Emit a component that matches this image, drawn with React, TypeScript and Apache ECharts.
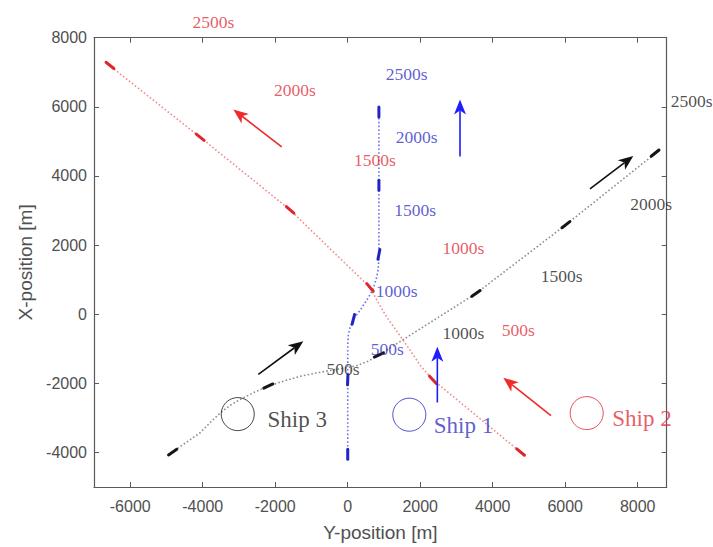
import { useEffect, useRef } from "react";
import * as echarts from "echarts";

// Axis tick positions (metres)
const xTicks = [-6000, -4000, -2000, 0, 2000, 4000, 6000, 8000];
const yTicks = [-4000, -2000, 0, 2000, 4000, 6000, 8000];

// Ship tracks, [Y-position, X-position]
const ship1Track = [
  [0, -4050], [0, -900], [15, -620], [60, -400], [155, -150], [260, 0],
  [340, 110], [450, 290], [570, 480], [660, 650], [725, 820], [790, 1030],
  [840, 1300], [860, 1600], [860, 5900],
];
const ship2Track = [
  [4800, -4020], [2350, -1900], [2000, -1480], [1720, -1040], [1400, -560],
  [1080, -90], [850, 320], [615, 774], [-1590, 3017], [-4070, 5120], [-6650, 7260],
];
const ship3Track = [
  [-4870, -4010], [-4470, -3720], [-4070, -3430], [-3800, -3140], [-3520, -2860],
  [-3250, -2640], [-2970, -2470], [-2600, -2270], [-2190, -2080], [-1750, -1930],
  [-1320, -1800], [-860, -1700], [-400, -1610], [-80, -1560], [250, -1490],
  [560, -1360], [860, -1180], [3540, 600], [6020, 2590], [8520, 4680],
];

// Positions every 500 s (0 s .. 2500 s)
const ship1Marks = [[0, -4050], [0, -1900], [155, -150], [860, 1730], [860, 3730], [860, 5850]];
const ship2Marks = [[4770, -3990], [2350, -1900], [615, 774], [-1590, 3017], [-4070, 5120], [-6560, 7200]];
const ship3Marks = [[-4830, -3990], [-2190, -2080], [860, -1180], [3540, 600], [6020, 2590], [8480, 4660]];

// Time annotations: [text, y, x]
const ship1Times: [string, number, number][] = [
  ["2500s", 1628, 6957], ["2000s", 1903, 5138], ["1500s", 1857, 3020],
  ["1000s", 1352, 672], ["500s", 1092, -994],
];
const ship2Times: [string, number, number][] = [
  ["2500s", -3708, 8460], ["2000s", -1454, 6497], ["1500s", 753, 4457],
  ["1000s", 3189, 1920], ["500s", 4706, -466],
];
const ship3Times: [string, number, number][] = [
  ["2500s", 9490, 6181], ["2000s", 8370, 3190], ["1500s", 5903, 1115],
  ["1000s", 3189, -543], ["500s", -130, -1598],
];

// Heading arrows: [tailY, tailX, tipY, tipX]
const ship1Arrows = [[3098, 4563, 3098, 6210], [2472, -2555, 2472, -945]];
const ship2Arrows = [[-1821, 4839, -3156, 5922], [5608, -2937, 4292, -1836]];
const ship3Arrows = [[-2466, -1741, -1225, -782], [6684, 3624, 7879, 4580]];

// Initial ship positions and names
const shipNames = ["Ship 1", "Ship 2", "Ship 3"];
const shipCircles = [[1699, -2908], [6593, -2862], [-3034, -2891]];
const shipNamePos = [[2361, -3216], [7283, -3006], [-2226, -3034]];

const BLUE = { track: "#7070ea", mark: "#2424c4", text: "#3434c6", arrow: "#1d1dff" };
const RED = { track: "#f28c8c", mark: "#e0262c", text: "#e2323c", arrow: "#ee2a2a" };
const BLACK = { track: "#8e8e8e", mark: "#161616", text: "#1e1e1e", arrow: "#111111" };
const SERIF = "'Liberation Serif', 'Times New Roman', serif";
const SANS = "'Liberation Sans', Arial, sans-serif";

function trackSeries(data: number[][], color: string) {
  return {
    type: "line",
    data,
    smooth: false,
    showSymbol: false,
    silent: true,
    lineStyle: { color, width: 1.6, type: [1.6, 2.2] },
    z: 2,
  };
}

function markSeries(marks: number[][], color: string) {
  return {
    type: "custom",
    coordinateSystem: "cartesian2d",
    silent: true,
    z: 4,
    data: marks.map((p, i) => {
      const a = marks[Math.max(0, i - 1)];
      const b = marks[Math.min(marks.length - 1, i + 1)];
      return [p[0], p[1], b[0] - a[0], b[1] - a[1]];
    }),
    renderItem: (_params: any, api: any) => {
      const x = api.value(0), y = api.value(1);
      const p = api.coord([x, y]);
      const q = api.coord([x + api.value(2), y + api.value(3)]);
      let ux = q[0] - p[0], uy = q[1] - p[1];
      const len = Math.hypot(ux, uy) || 1;
      ux /= len; uy /= len;
      const h = 5;
      return {
        type: "line",
        shape: { x1: p[0] - ux * h, y1: p[1] - uy * h, x2: p[0] + ux * h, y2: p[1] + uy * h },
        style: { stroke: color, lineWidth: 3, lineCap: "round" },
      };
    },
  };
}

function arrowSeries(arrows: number[][], color: string) {
  return {
    type: "custom",
    coordinateSystem: "cartesian2d",
    silent: true,
    z: 5,
    data: arrows,
    renderItem: (_params: any, api: any) => {
      const t = api.coord([api.value(0), api.value(1)]);
      const h = api.coord([api.value(2), api.value(3)]);
      let ux = h[0] - t[0], uy = h[1] - t[1];
      const len = Math.hypot(ux, uy) || 1;
      ux /= len; uy /= len;
      const nx = -uy, ny = ux;
      const hl = 15, hw = 6, notch = 4;
      const bx = h[0] - ux * hl, by = h[1] - uy * hl;
      const cx = h[0] - ux * (hl - notch), cy = h[1] - uy * (hl - notch);
      return {
        type: "group",
        children: [
          {
            type: "line",
            shape: { x1: t[0], y1: t[1], x2: cx, y2: cy },
            style: { stroke: color, lineWidth: 1.6 },
          },
          {
            type: "polygon",
            shape: {
              points: [
                [h[0], h[1]],
                [bx + nx * hw, by + ny * hw],
                [cx, cy],
                [bx - nx * hw, by - ny * hw],
              ],
            },
            style: { fill: color },
          },
        ],
      };
    },
  };
}

function timeSeries(items: [string, number, number][], color: string) {
  return {
    type: "scatter",
    clip: false,
    silent: true,
    symbolSize: 1,
    itemStyle: { color: "transparent" },
    z: 6,
    data: items.map(([name, x, y]) => ({ name, value: [x, y] })),
    label: {
      show: true,
      position: "inside",
      formatter: "{b}",
      color,
      fontSize: 17.5,
      fontFamily: SERIF,
    },
  };
}

export default function App() {
  const ref = useRef<HTMLDivElement>(null);

  useEffect(() => {
    if (!ref.current) return;
    const chart = echarts.init(ref.current, undefined, { renderer: "svg" });
    const axisColor = "#5a5a5a";
    const tickLabel = {
      fontSize: 16,
      color: "#505050",
      fontFamily: SANS,
      formatter: (v: number) => String(v),
    };
    const frame = { show: true, onZero: false, lineStyle: { color: axisColor, width: 1.2 } };
    const shipColors = [BLUE, RED, BLACK];

    chart.setOption({
      animation: false,
      backgroundColor: "#ffffff",
      grid: { left: 94, right: 46.3, top: 37.7, bottom: 56.9 },
      xAxis: [
        {
          type: "value",
          min: -7000,
          max: 8800,
          position: "bottom",
          name: "Y-position [m]",
          nameLocation: "middle",
          nameGap: 36,
          nameTextStyle: { fontSize: 19, color: "#505050", fontFamily: SANS },
          axisLine: frame,
          axisTick: { show: true, inside: true, length: 5, customValues: xTicks, lineStyle: { color: axisColor } },
          axisLabel: { ...tickLabel, margin: 11, customValues: xTicks },
          splitLine: { show: false },
        },
        {
          type: "value",
          min: -7000,
          max: 8800,
          position: "top",
          axisLine: frame,
          axisTick: { show: true, inside: true, length: 5, customValues: xTicks, lineStyle: { color: axisColor } },
          axisLabel: { show: false },
          splitLine: { show: false },
        },
      ],
      yAxis: [
        {
          type: "value",
          min: -5000,
          max: 8000,
          position: "left",
          name: "X-position [m]",
          nameLocation: "middle",
          nameGap: 58,
          nameTextStyle: { fontSize: 19, color: "#505050", fontFamily: SANS },
          axisLine: frame,
          axisTick: { show: true, inside: true, length: 5, customValues: yTicks, lineStyle: { color: axisColor } },
          axisLabel: { ...tickLabel, margin: 7, customValues: yTicks },
          splitLine: { show: false },
        },
        {
          type: "value",
          min: -5000,
          max: 8000,
          position: "right",
          axisLine: frame,
          axisTick: { show: true, inside: true, length: 5, customValues: yTicks, lineStyle: { color: axisColor } },
          axisLabel: { show: false },
          splitLine: { show: false },
        },
      ],
      series: [
        trackSeries(ship1Track, BLUE.track),
        trackSeries(ship2Track, RED.track),
        trackSeries(ship3Track, BLACK.track),
        markSeries(ship1Marks, BLUE.mark),
        markSeries(ship2Marks, RED.mark),
        markSeries(ship3Marks, BLACK.mark),
        arrowSeries(ship1Arrows, BLUE.arrow),
        arrowSeries(ship2Arrows, RED.arrow),
        arrowSeries(ship3Arrows, BLACK.arrow),
        timeSeries(ship1Times, BLUE.text),
        timeSeries(ship2Times, RED.text),
        timeSeries(ship3Times, BLACK.text),
        {
          type: "scatter",
          silent: true,
          clip: false,
          symbol: "circle",
          symbolSize: 33,
          z: 3,
          data: shipCircles.map((p, i) => ({
            value: p,
            itemStyle: { color: "transparent", borderColor: shipColors[i].mark, borderWidth: 1 },
          })),
        },
        {
          type: "scatter",
          silent: true,
          clip: false,
          symbolSize: 1,
          itemStyle: { color: "transparent" },
          z: 6,
          data: shipNamePos.map((p, i) => ({
            name: shipNames[i],
            value: p,
            label: { color: shipColors[i].text },
          })),
          label: {
            show: true,
            position: "right",
            distance: 0,
            formatter: "{b}",
            fontSize: 23,
            fontFamily: SERIF,
          },
        },
      ],
    });

    return () => chart.dispose();
  }, []);

  return (
    <div
      ref={ref}
      style={{ position: "fixed", left: 0, top: 0, width: 713, height: 547, background: "#fff" }}
    />
  );
}
